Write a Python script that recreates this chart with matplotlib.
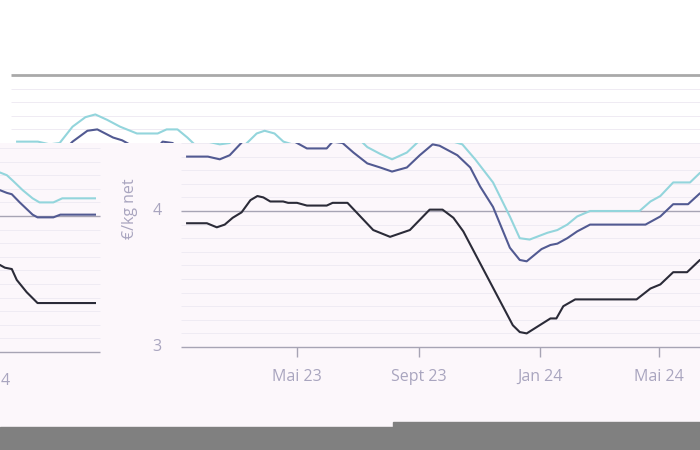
import matplotlib
matplotlib.use('Agg')
import matplotlib.pyplot as plt
import matplotlib.dates as mdates
from matplotlib.patches import Rectangle
import numpy as np

plt.rcParams['font.family'] = ['Open Sans', 'DejaVu Sans']

# --- data (€/kg net) ---
cyan_dates = ['2023-01-10', '2023-01-31', '2023-02-12', '2023-02-22', '2023-03-07', '2023-03-20',
              '2023-03-30', '2023-04-11', '2023-04-24', '2023-05-11', '2023-06-01', '2023-06-10',
              '2023-06-21', '2023-07-01', '2023-07-11', '2023-07-24', '2023-08-05', '2023-08-20',
              '2023-09-02', '2023-09-09', '2023-09-17', '2023-09-27', '2023-10-06', '2023-10-15',
              '2023-10-28', '2023-11-15', '2023-12-02', '2023-12-12', '2023-12-22', '2024-01-09',
              '2024-01-19', '2024-01-29', '2024-02-08', '2024-02-21', '2024-04-11', '2024-04-22',
              '2024-05-02', '2024-05-15', '2024-06-01', '2024-06-11', '2024-09-20', '2024-09-27',
              '2024-10-03', '2024-10-13', '2024-10-23', '2024-10-30', '2024-11-13', '2024-11-22',
              '2024-12-25']
cyan_vals = [4.51, 4.51, 4.49, 4.50, 4.62, 4.69,
             4.71, 4.67, 4.62, 4.57, 4.57, 4.60,
             4.60, 4.54, 4.47, 4.42, 4.38, 4.43,
             4.52, 4.57, 4.59, 4.57, 4.51, 4.49,
             4.38, 4.21, 3.96, 3.80, 3.79, 3.84,
             3.86, 3.90, 3.96, 4.00, 4.00, 4.07,
             4.11, 4.21, 4.21, 4.28, 4.32, 4.30,
             4.26, 4.19, 4.13, 4.10, 4.10, 4.13,
             4.13]

blue_dates = ['2023-01-10', '2023-01-31', '2023-02-12', '2023-02-22', '2023-03-07', '2023-03-22',
              '2023-04-01', '2023-04-17', '2023-04-26', '2023-05-11', '2023-05-31', '2023-06-06',
              '2023-06-16', '2023-06-27', '2023-07-11', '2023-07-24', '2023-08-05', '2023-08-20',
              '2023-09-02', '2023-09-15', '2023-09-22', '2023-10-10', '2023-10-23', '2023-11-02',
              '2023-11-15', '2023-12-02', '2023-12-12', '2023-12-19', '2024-01-03', '2024-01-12',
              '2024-01-19', '2024-01-29', '2024-02-08', '2024-02-21', '2024-04-17', '2024-05-02',
              '2024-05-15', '2024-05-30', '2024-06-11', '2024-09-20', '2024-09-27', '2024-10-02',
              '2024-10-10', '2024-10-23', '2024-10-28', '2024-11-13', '2024-11-20', '2024-12-25']
blue_vals = [4.40, 4.40, 4.38, 4.41, 4.51, 4.59,
             4.60, 4.54, 4.52, 4.46, 4.46, 4.51,
             4.50, 4.43, 4.35, 4.32, 4.29, 4.32,
             4.41, 4.49, 4.48, 4.41, 4.32, 4.18,
             4.03, 3.73, 3.64, 3.63, 3.72, 3.75,
             3.76, 3.80, 3.85, 3.90, 3.90, 3.96,
             4.05, 4.05, 4.13, 4.19, 4.17, 4.16,
             4.10, 4.01, 3.99, 3.99, 4.01, 4.01]

black_dates = ['2023-01-10', '2023-01-30', '2023-02-09', '2023-02-17', '2023-02-25', '2023-03-06',
               '2023-03-15', '2023-03-22', '2023-03-28', '2023-04-04', '2023-04-17', '2023-04-22',
               '2023-05-01', '2023-05-11', '2023-05-31', '2023-06-06', '2023-06-21', '2023-07-04',
               '2023-07-17', '2023-08-03', '2023-08-23', '2023-09-12', '2023-09-25', '2023-10-06',
               '2023-10-16', '2023-12-05', '2023-12-12', '2023-12-19', '2024-01-12', '2024-01-18',
               '2024-01-25', '2024-02-06', '2024-04-08', '2024-04-22', '2024-05-02', '2024-05-15',
               '2024-05-29', '2024-06-11', '2024-09-20', '2024-09-25', '2024-10-02', '2024-10-07',
               '2024-10-17', '2024-10-28', '2024-12-25']
black_vals = [3.91, 3.91, 3.88, 3.90, 3.95, 3.99,
              4.08, 4.11, 4.10, 4.07, 4.07, 4.06,
              4.06, 4.04, 4.04, 4.06, 4.06, 3.96,
              3.86, 3.81, 3.86, 4.01, 4.01, 3.95,
              3.85, 3.16, 3.11, 3.10, 3.21, 3.21,
              3.30, 3.35, 3.35, 3.43, 3.46, 3.55,
              3.55, 3.64, 3.64, 3.62, 3.61, 3.53,
              3.44, 3.36, 3.36]

tick_dates = ['2023-05-01', '2023-09-01', '2024-01-01', '2024-05-01', '2024-09-01']
tick_labels = ['Mai 23', 'Sept 23', 'Jan 24', 'Mai 24', 'Sept 24']
y_labels = ['4', '3']

series = [(cyan_dates, cyan_vals, '#93d5dc'),
          (blue_dates, blue_vals, '#525a92'),
          (black_dates, black_vals, '#2b2b38')]

lavender = '#fcf7fb'
label_col = '#a9a5bf'
fs = 11.5

W, H = 700, 450
fig = plt.figure(figsize=(7, 4.5), dpi=100)
fig.patch.set_facecolor('white')

# pixel <-> data mapping of the (broken) picture
D0 = mdates.datestr2num('2023-05-01')


def xnum(px):
    return D0 + (px - 297) / 0.99


def xpix(num):
    return 297 + (num - D0) * 0.99


def yval(py):
    return 4 + (211 - py) / 136


def window(x0, y0, x1, y1, dx, dy, face):
    # one piece of the chart, shown at figure pixels x0..x1 / y0..y1
    ax = fig.add_axes([x0 / W, 1 - y1 / H, (x1 - x0) / W, (y1 - y0) / H])
    ax.set_facecolor(face)
    for s in ax.spines.values():
        s.set_visible(False)
    ax.set_xticks([])
    ax.set_yticks([])
    ax.set_xlim(xnum(x0 + dx), xnum(x1 + dx))
    ax.set_ylim(yval(y1 + dy), yval(y0 + dy))

    gx0, gx1 = xnum(181), xnum(900)
    ax.hlines(np.arange(31, 50) / 10, gx0, gx1, color='#efebf3', lw=0.7)
    ax.hlines([3, 4], gx0, gx1, color='#a7a4b4', lw=1)
    ax.hlines([5], gx0, gx1, color='#a9a9a9', lw=2)

    tx = mdates.datestr2num(tick_dates)
    ax.vlines(tx, yval(357), 3, color='#a7a4b4', lw=1)
    # only the labels that fit fully inside this piece
    if y0 < 377 - dy < y1:
        for t, lab in zip(tx, tick_labels):
            px = xpix(t) - dx
            if x0 + 30 < px < x1 - 30:
                ax.text(t, yval(377), lab, ha='center', va='center', fontsize=fs,
                        color=label_col)

    for d, v, c in series:
        ax.plot(mdates.datestr2num(d), v, color=c, lw=1.5, solid_joinstyle='round')
    return ax


window(0, 0, 700, 143, 170, 0, 'white')
window(181, 143, 700, 427, 0, 0, lavender)
window(0, 143, 181, 427, 800, -5, lavender)

# y axis labels (left margin piece)
fig.text(157 / W, 1 - 211 / H, y_labels[0], ha='center', va='center',
         fontsize=fs, color=label_col)
fig.text(157 / W, 1 - 347 / H, y_labels[1], ha='center', va='center',
         fontsize=fs, color=label_col)
fig.text(130 / W, 1 - 209 / H, '€/kg net', ha='center', va='center', rotation=90,
         fontsize=fs, color=label_col)
# visible tail of the 'Sept 24' label in the left piece
fig.text(1 / W, 1 - 381 / H, tick_labels[-1][-1], ha='left', va='center',
         fontsize=fs, color=label_col)

# grey strip at the bottom
fig.add_artist(Rectangle((0, 0), 393 / W, 23 / H, transform=fig.transFigure,
                         color='#808080', zorder=10))
fig.add_artist(Rectangle((393 / W, 0), 307 / W, 28 / H, transform=fig.transFigure,
                         color='#808080', zorder=10))

fig.savefig('out.png', dpi=100)
